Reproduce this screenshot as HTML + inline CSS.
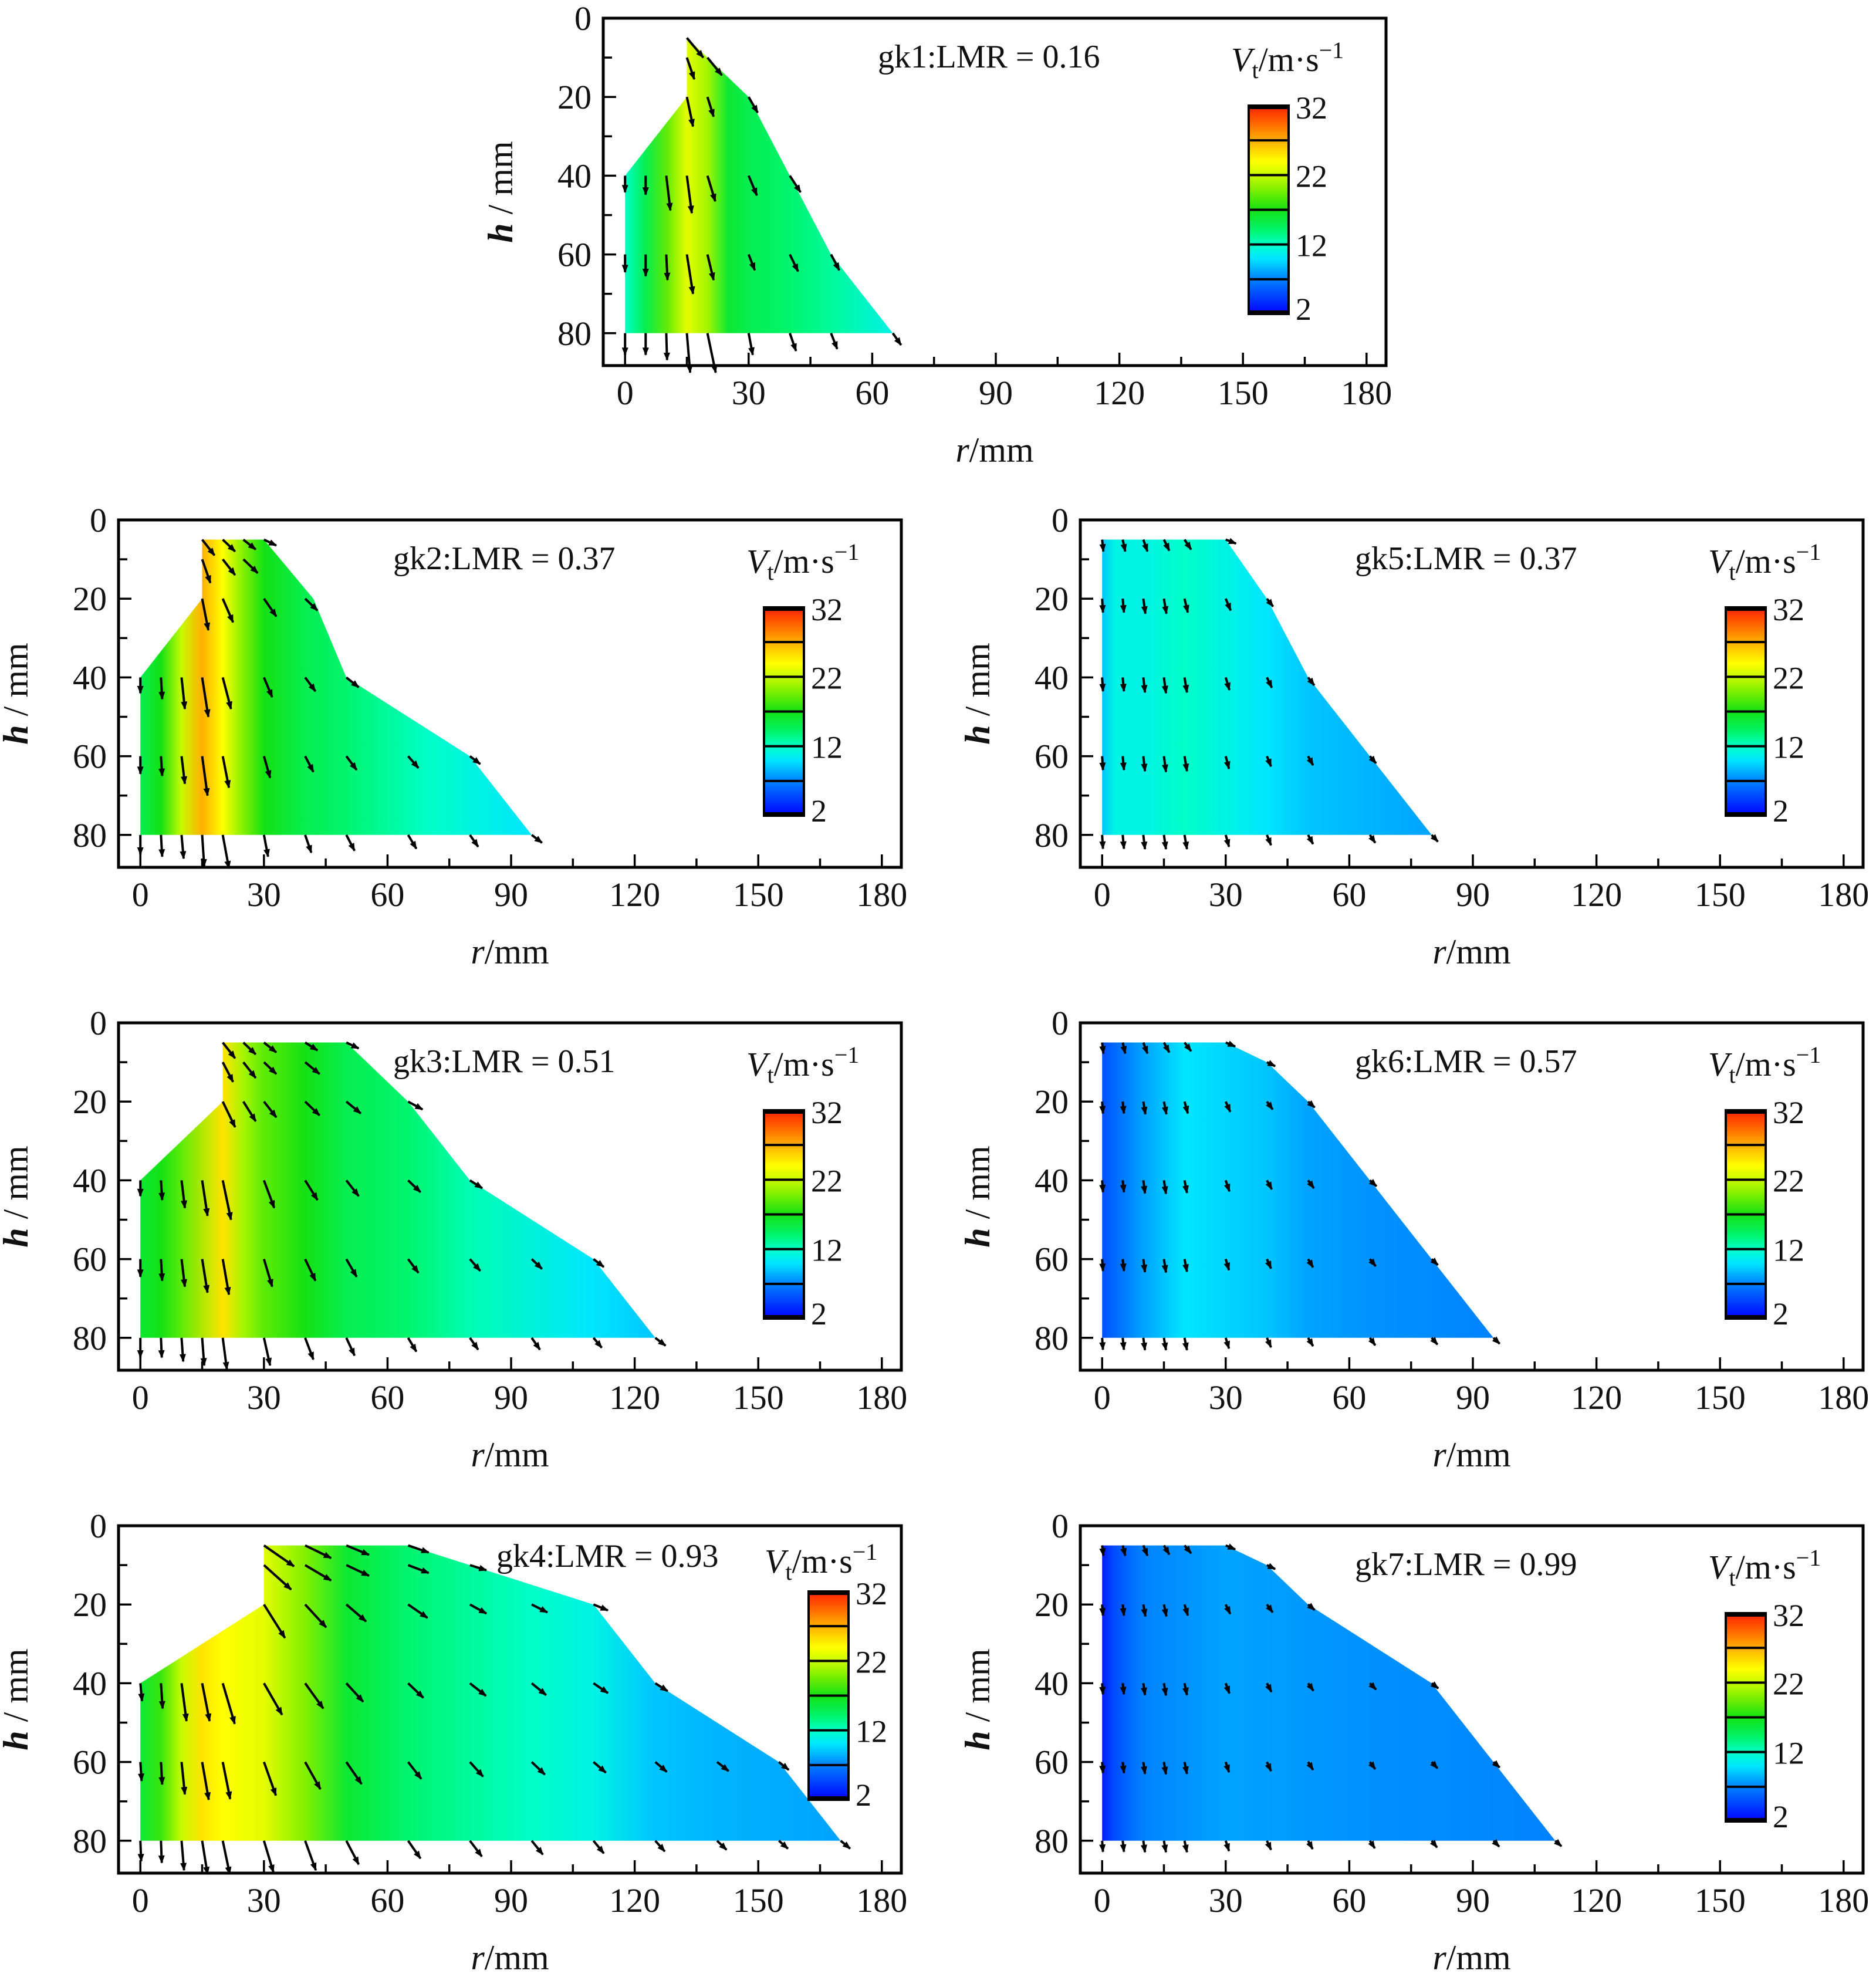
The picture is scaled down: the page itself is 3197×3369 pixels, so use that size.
<!DOCTYPE html>
<html><head><meta charset="utf-8"><style>
html,body{margin:0;padding:0;background:#fff}
svg text{font-family:"Liberation Serif",serif;fill:#111}
</style></head><body>
<svg id="fig" xmlns="http://www.w3.org/2000/svg" width="3197" height="3364" viewBox="0 0 3197 3364">
<rect width="3197" height="3364" fill="#fff"/>
</svg>
<script>
// ---- data ----
const panelNames=["gk1","gk2","gk3","gk4","gk5","gk6","gk7"];
const panelLMR=["0.16","0.37","0.51","0.93","0.37","0.57","0.99"];
const bounds=[
 [[0,80],[0,40],[15,20],[15,5],[30,20],[40,40],[50,60],[65,80]],
 [[0,80],[0,40],[15,20],[15,5],[30,5],[42,20],[50,40],[80,60],[95,80]],
 [[0,80],[0,40],[20,20],[20,5],[50,5],[65,20],[80,40],[110,60],[125,80]],
 [[0,80],[0,40],[30,20],[30,5],[65,5],[110,20],[125,40],[155,60],[170,80]],
 [[0,80],[0,5],[30,5],[40,20],[50,40],[65,60],[80,80]],
 [[0,80],[0,5],[30,5],[40,10],[50,20],[65,40],[80,60],[95,80]],
 [[0,80],[0,5],[30,5],[40,10],[50,20],[80,40],[95,60],[110,80]]
];
const colR=[
 [0,5,10,15,20,25,30,40,50,65],
 [0,5,10,15,20,25,30,40,50,70,95],
 [0,5,10,20,25,30,40,50,65,80,110,125],
 [0,5,10,15,20,30,40,50,65,80,95,110,125,140,170],
 [0,3,10,20,30,40,50,65,80],
 [0,3,10,20,30,40,50,65,95],
 [0,3,10,30,60,110]
];
const colV=[
 [12,15,19,23,21,16,15,14,13,11],
 [15,17,22,27,24,20,17,15,14,12,10],
 [16,17,19,25,21,19,17,15,14,12.5,10,9],
 [16,18,22,25,24,23,20,16,14,13,12,11,9,8.5,8],
 [9,11,11,12,11,10,9,8.5,8],
 [5,6,8,10,9.5,9,8,7.5,7],
 [3,5,7,8,7.5,7]
];
const arrows1=[[15,5,4,5],[15,10,1.8,5.5],[20,10,3.5,4.5],[15,20,1.5,7.5],[20,20,1.5,5],[30,20,2.2,4],
 [0,40,0,4.2],[5,40,0,4.8],[10,40,1,8.8],[15,40,1.2,9.5],[20,40,1.9,6.5],[30,40,2,5],[40,40,2.6,4.2],
 [0,60,0,4.5],[5,60,0,5.5],[10,60,.3,6.5],[15,60,1.5,10],[20,60,1.5,6.5],[30,60,1.5,4],[40,60,2,4.3],[50,60,2,4],
 [0,80,0,5.5],[5,80,0,5.5],[10,80,.2,6.8],[15,80,.8,10],[20,80,2,10],[30,80,1,5.5],[40,80,1.5,4.5],[50,80,1.5,4],[65,80,2,3]];
const arrows2=[[15,5,3,4],[20,5,3,3],[25,5,3,2.5],[30,5,3,1.5],[15,10,2,6],[20,10,3,4],[25,10,3.5,3.5],
 [15,20,1.5,8],[20,20,2.5,6],[30,20,3,4.5],[40,20,3,3],
 [0,40,0,4],[5,40,.3,5.5],[10,40,.8,8],[15,40,1.5,10],[20,40,2,8],[30,40,2,5],[40,40,2.5,3.5],[50,40,3,2.5],
 [0,60,0,4.5],[5,60,.3,5],[10,60,.8,7],[15,60,1.3,10],[20,60,1.5,8],[30,60,1.5,5.5],[40,60,2,4],[50,60,2.5,3.5],[65,60,2.5,3],[80,60,2.5,2],
 [0,80,0,5],[5,80,.3,5.5],[10,80,.5,6],[15,80,.5,8],[20,80,1.5,8.5],[30,80,1,5.5],[40,80,1.5,4.5],[50,80,2,4],[65,80,2,3.5],[80,80,2,3],[95,80,2.5,2]];
const arrows3=[[20,5,3,4],[25,5,3,3],[30,5,3,2.5],[40,5,3,2],[50,5,3,1.5],[20,10,2.5,5],[25,10,3,4],[30,10,3,3],[40,10,3.5,3],
 [20,20,3,6.5],[25,20,3,5],[30,20,3,4],[40,20,3.5,3.5],[50,20,3.5,3],[65,20,3.5,2],
 [0,40,0,4],[5,40,.3,5],[10,40,.8,7],[15,40,1.3,9],[20,40,2,10],[30,40,2.5,7],[40,40,3,5],[50,40,3,4],[65,40,3,3],[80,40,3,2],
 [0,60,0,4.5],[5,60,.3,5.5],[10,60,.8,7],[15,60,1.3,8.5],[20,60,1.5,9],[30,60,2,7],[40,60,2.5,5.5],[50,60,2.5,4.5],[65,60,2.5,3.5],[80,60,2.5,3],[95,60,2.5,2.5],[110,60,2.5,2],
 [0,80,0,5],[5,80,.2,5],[10,80,.4,6],[15,80,.5,7],[20,80,1,8],[30,80,1.5,7],[40,80,2,5.5],[50,80,2,4.5],[65,80,2,3.5],[80,80,2,3],[95,80,2,3],[110,80,2,2.5],[125,80,2.5,2]];
const arrows4=[[30,5,7.3,5.3],[40,5,6.3,3.2],[50,5,5.5,2.4],[65,5,5,1.8],[80,10,4,1.3],
 [30,10,6.6,6.2],[40,10,6.3,3.9],[50,10,5.5,2.7],[65,10,5,2],
 [30,20,5.1,8.5],[40,20,5.1,5.8],[50,20,4.8,4.3],[65,20,4.7,3.4],[80,20,4,2.3],[95,20,3.8,2],[110,20,3.5,1.5],
 [0,40,.4,4.5],[5,40,.4,6.4],[10,40,1.2,9.6],[15,40,1.8,9.6],[20,40,2.9,10.3],[30,40,4.4,8],[40,40,4.4,6.4],[50,40,4.1,4.7],[65,40,3.7,3.7],[80,40,3.9,3.2],[95,40,3.5,3],[110,40,3.5,2.5],[125,40,3,2],
 [0,60,.3,4.8],[5,60,.3,5.7],[10,60,.8,8.2],[15,60,1.6,9.6],[20,60,1.8,9.4],[30,60,2.9,8.5],[40,60,3.7,6.9],[50,60,3.7,5.6],[65,60,3.2,4.3],[80,60,3.2,3.7],[95,60,3.2,3.2],[110,60,3,2.7],[125,60,2.8,2.5],[140,60,2.8,2.3],[155,60,2.4,2],
 [0,80,.2,5.2],[5,80,.2,5.6],[10,80,.6,7.5],[15,80,1.3,8.5],[20,80,1.7,8.5],[30,80,2.3,8],[40,80,2.6,7.5],[50,80,3,6],[65,80,3,4.5],[80,80,2.9,4],[95,80,2.7,3.5],[110,80,2.5,3.2],[125,80,2.3,2.7],[140,80,2.3,2.3],[155,80,2.2,2],[170,80,2.3,2]];
const arrows5=[[0,5,.3,3],[5,5,.6,3],[10,5,1,3],[15,5,1.3,2.8],[20,5,1.6,2.5],[30,5,2.5,1],
 [0,20,.2,3.5],[5,20,.3,3.5],[10,20,.5,3.8],[15,20,.6,3.8],[20,20,.8,3.5],[30,20,1.2,3],[40,20,1.5,2],
 [0,40,.2,3.5],[5,40,.3,3.5],[10,40,.4,3.8],[15,40,.5,4],[20,40,.6,3.8],[30,40,.9,3.2],[40,40,1.2,2.6],[50,40,1.5,2],
 [0,60,.2,3.5],[5,60,.3,3.5],[10,60,.4,3.8],[15,60,.5,4],[20,60,.6,3.8],[30,60,.8,3.2],[40,60,1,2.6],[50,60,1.2,2.3],[65,60,1.5,1.8],
 [0,80,.2,3.5],[5,80,.3,3.5],[10,80,.4,3.6],[15,80,.5,3.6],[20,80,.6,3.6],[30,80,.8,3],[40,80,1,2.6],[50,80,1.2,2.3],[65,80,1.3,2],[80,80,1.5,1.7]];
const arrows6=[[0,5,.3,2.8],[5,5,.6,2.8],[10,5,1,2.8],[15,5,1.3,2.5],[20,5,1.6,2.2],[30,5,2.3,1],[40,10,2,1],
 [0,20,.2,3],[5,20,.3,3],[10,20,.5,3.2],[15,20,.6,3.2],[20,20,.8,3],[30,20,1.1,2.6],[40,20,1.4,2],[50,20,1.6,1.5],
 [0,40,.2,3],[5,40,.3,3],[10,40,.4,3.3],[15,40,.5,3.4],[20,40,.6,3.2],[30,40,.9,2.8],[40,40,1.2,2.3],[50,40,1.4,2],[65,40,1.6,1.5],
 [0,60,.2,3],[5,60,.3,3],[10,60,.4,3.3],[15,60,.5,3.4],[20,60,.6,3.2],[30,60,.8,2.8],[40,60,1,2.4],[50,60,1.2,2.1],[65,60,1.4,1.8],[80,60,1.5,1.5],
 [0,80,.2,3],[5,80,.3,3],[10,80,.4,3.1],[15,80,.5,3.1],[20,80,.6,3.1],[30,80,.8,2.7],[40,80,1,2.4],[50,80,1.2,2.1],[65,80,1.3,1.9],[80,80,1.4,1.7],[95,80,1.5,1.5]];
const arrows7=[[0,5,.3,2.6],[5,5,.6,2.6],[10,5,1,2.6],[15,5,1.3,2.3],[20,5,1.6,2],[30,5,2.3,1],[40,10,2,1],
 [0,20,.2,2.8],[5,20,.3,2.8],[10,20,.5,3],[15,20,.6,3],[20,20,.8,2.8],[30,20,1.1,2.4],[40,20,1.4,2],[50,20,1.6,1.4],
 [0,40,.2,2.8],[5,40,.3,2.8],[10,40,.4,3],[15,40,.5,3.1],[20,40,.6,3],[30,40,.9,2.6],[40,40,1.1,2.2],[50,40,1.3,1.9],[65,40,1.5,1.6],[80,40,1.6,1.3],
 [0,60,.2,2.8],[5,60,.3,2.8],[10,60,.4,3],[15,60,.5,3.1],[20,60,.6,3],[30,60,.8,2.6],[40,60,1,2.3],[50,60,1.2,2],[65,60,1.3,1.8],[80,60,1.4,1.6],[95,60,1.5,1.4],
 [0,80,.2,2.8],[5,80,.3,2.8],[10,80,.4,2.9],[15,80,.5,2.9],[20,80,.6,2.9],[30,80,.8,2.6],[40,80,1,2.3],[50,80,1.1,2.1],[65,80,1.2,1.9],[80,80,1.3,1.7],[95,80,1.4,1.5],[110,80,1.5,1.4]];
const arrowSets=[arrows1,arrows2,arrows3,arrows4,arrows5,arrows6,arrows7];
const xTicks=[0,30,60,90,120,150,180];
const yTicks=[0,20,40,60,80];
const cbTicks=[32,22,12,2];

// ---- layout (not data) ----
const panelPos=[[1028,31],[202,886],[202,1743],[202,2600],[1841,886],[1841,1743],[1841,2600]];
const BW=1334,BH=592,SX=7.02,SY=6.71,R0=-5.3;
const NS="http://www.w3.org/2000/svg";
const svg=document.getElementById('fig');
function mk(tag,attrs,parent){const e=document.createElementNS(NS,tag);for(const k in attrs)e.setAttribute(k,attrs[k]);(parent||svg).appendChild(e);return e;}
const cstops=[[2,[0,0,255]],[7,[0,130,255]],[10,[0,230,255]],[12,[0,255,200]],[14,[0,245,110]],[17,[20,225,20]],[20,[130,240,0]],[22,[200,250,0]],[24,[255,255,0]],[27,[255,175,0]],[32,[255,30,0]]];
function cmap(v){if(v<=cstops[0][0])return rgb(cstops[0][1]);for(let i=1;i<cstops.length;i++){if(v<=cstops[i][0]){const a=cstops[i-1],b=cstops[i],t=(v-a[0])/(b[0]-a[0]);return rgb(a[1].map((c,j)=>c+(b[1][j]-c)*t));}}return rgb(cstops[cstops.length-1][1]);}
function rgb(c){return 'rgb('+c.map(x=>Math.round(x)).join(',')+')';}
const defs=mk('defs',{});
const mkr=mk('marker',{id:'ah',markerWidth:15,markerHeight:11,refX:9,refY:4,orient:'auto',markerUnits:'userSpaceOnUse',viewBox:'0 0 10 8'},defs);
mk('path',{d:'M0,0 L10,4 L0,8 z',fill:'#000'},mkr);

panelNames.forEach((nm,p)=>{
 const [L,T]=panelPos[p];
 const X=r=>L+(r-R0)*SX, Y=h=>T+h*SY;
 const g=mk('g',{});
 
 
 const gid='grad'+p;
 const lg=mk('linearGradient',{id:gid,gradientUnits:'userSpaceOnUse',x1:X(0),y1:0,x2:X(colR[p][colR[p].length-1]),y2:0},defs);
 const rmax=colR[p][colR[p].length-1];
 colR[p].forEach((r,i)=>mk('stop',{offset:(r/rmax).toFixed(4),'stop-color':cmap(colV[p][i])},lg));
 const poly=mk('polygon',{points:bounds[p].map(q=>X(q[0]).toFixed(1)+','+Y(q[1]).toFixed(1)).join(' '),fill:'url(#'+gid+')'},g);
 
 
 arrowSets[p].forEach(a=>{
  const ln=mk('line',{x1:X(a[0]),y1:Y(a[1]),x2:X(a[0]+a[2]),y2:Y(a[1]+a[3]),stroke:'#000','stroke-width':4,'marker-end':'url(#ah)'},g);
  
  
 });
 const box=mk('rect',{x:L,y:T,width:BW,height:BH,fill:'none',stroke:'#000','stroke-width':5},g);
 
 
 for(let r=0;r<=180;r+=15){const len=(r%30===0)?22:15;mk('line',{x1:X(r),y1:T+BH,x2:X(r),y2:T+BH-len,stroke:'#000','stroke-width':3.5},g);}
 xTicks.forEach(r=>{const t=mk('text',{x:X(r),y:T+BH+66,'font-size':58,'text-anchor':'middle'},g);t.textContent=r;
  
  });
 for(let h=0;h<=80;h+=10){const len=(h%20===0)?22:15;mk('line',{x1:L,y1:Y(h),x2:L+len,y2:Y(h),stroke:'#000','stroke-width':3.5},g);}
 yTicks.forEach(h=>{const t=mk('text',{x:L-20,y:Y(h)+20,'font-size':58,'text-anchor':'end'},g);t.textContent=h;
  
  });
 const xl=mk('text',{x:L+BW/2,y:T+BH+164,'font-size':60,'text-anchor':'middle'},g);
 xl.innerHTML='<tspan font-style="italic">r</tspan>/mm';
 
 
 const yl=mk('text',{x:0,y:0,'font-size':60,'text-anchor':'middle',transform:'translate('+(L-155)+','+(T+BH/2)+') rotate(-90)'},g);
 yl.innerHTML='<tspan font-style="italic" font-weight="bold">h</tspan> / mm';
 
 
 const big=(p===3);
 const ti=mk('text',{x:L+(big?644:468),y:T+(big?70:84),'font-size':56},g);
 ti.textContent=nm+':LMR = '+panelLMR[p];
 
 
 const cx=L+(big?1176:1100), cy=T+(big?112:149), cw=68, ch=355;
 const cg=mk('linearGradient',{id:'cb'+p,x1:0,y1:1,x2:0,y2:0},defs);
 for(let v=2;v<=32;v+=1)mk('stop',{offset:((v-2)/30).toFixed(3),'stop-color':cmap(v)},cg);
 const cb=mk('rect',{x:cx,y:cy,width:cw,height:ch,fill:'url(#cb'+p+')',stroke:'#000','stroke-width':4},g);
 
 
 for(let v=7;v<=27;v+=5){const yy=cy+ch*(32-v)/30;mk('line',{x1:cx,y1:yy,x2:cx+cw,y2:yy,stroke:'#000','stroke-width':4},g);}
 mk('line',{x1:cx,y1:cy+3,x2:cx+cw,y2:cy+3,stroke:'#000','stroke-width':6},g);
 mk('line',{x1:cx,y1:cy+ch-3,x2:cx+cw,y2:cy+ch-3,stroke:'#000','stroke-width':6},g);
 cbTicks.forEach(v=>{const t=mk('text',{x:cx+cw+12,y:cy+ch*(32-v)/30+(v===32?22:(v===2?10:20)),'font-size':54},g);t.textContent=v;
  
  });
 const cl=mk('text',{x:L+(big?1101:1070),y:T+(big?80:90),'font-size':58},g);
 cl.innerHTML='<tspan font-style="italic">V</tspan><tspan font-size="40" dy="12">t</tspan><tspan dy="-12">/m·s</tspan><tspan font-size="40" dy="-22">−1</tspan>';
 
 
});
</script>
</body></html>
